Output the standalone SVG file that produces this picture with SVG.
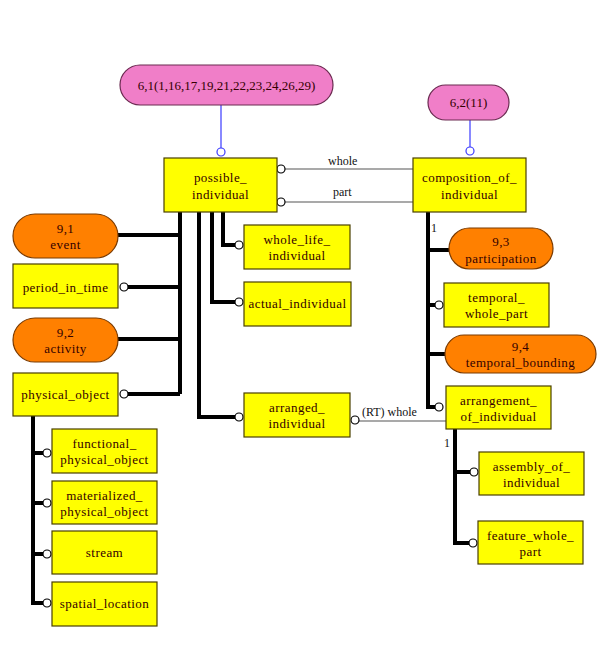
<svg xmlns="http://www.w3.org/2000/svg" width="609" height="647" viewBox="0 0 609 647">
<style>
text{font-family:"Liberation Serif","Times New Roman",serif;font-size:13px;fill:#330000;text-anchor:middle;letter-spacing:0.45px}
.pnk + text{letter-spacing:0}
.box{fill:#ffff00;stroke:#4a4000;stroke-width:1.2}
.org{fill:#ff8000;stroke:#7a3a00;stroke-width:1.2}
.pnk{fill:#f07ec8;stroke:#6a2a50;stroke-width:1.2}
.thick{stroke:#000;stroke-width:4;fill:none}
.thin{stroke:#555;stroke-width:1.2;fill:none}
.blue{stroke:#3a3aff;stroke-width:1.2;fill:none}
.c{fill:#fff;stroke:#000;stroke-width:1.2}
.cb{fill:#fff;stroke:#3a3aff;stroke-width:1.2}
.lbl{text-anchor:start;font-size:12px;letter-spacing:0;fill:#111}
</style>
<rect width="609" height="647" fill="#fff"/>
<g id="connectors">
<line class="blue" x1="221" y1="105" x2="221" y2="148"/>
<circle class="cb" cx="221" cy="152" r="4"/>
<line class="blue" x1="470" y1="120" x2="470" y2="147"/>
<circle class="cb" cx="470" cy="151" r="4"/>
<line class="thin" x1="285" y1="169" x2="413" y2="169"/>
<circle class="c" cx="281" cy="169" r="4"/>
<text class="lbl" x="328" y="165">whole</text>
<line class="thin" x1="285" y1="202" x2="413" y2="202"/>
<circle class="c" cx="281" cy="202" r="4"/>
<text class="lbl" x="333" y="196">part</text>
<path class="thick" d="M180,212V394M118,235H180M128,287H180M118,339H180M128,394H180"/>
<circle class="c" cx="124" cy="287" r="4"/>
<circle class="c" cx="124" cy="394" r="4"/>
<path class="thick" d="M199,212V417H235M212,212V302H235M223,212V245H235"/>
<circle class="c" cx="239" cy="417" r="4"/>
<circle class="c" cx="239" cy="302" r="4"/>
<circle class="c" cx="239" cy="245" r="4"/>
<path class="thick" d="M33,416V603H43M33,453H43M33,503H43M33,554H43"/>
<circle class="c" cx="47" cy="453" r="4"/>
<circle class="c" cx="47" cy="503" r="4"/>
<circle class="c" cx="47" cy="554" r="4"/>
<circle class="c" cx="47" cy="603" r="4"/>
<path class="thick" d="M428,212V407H435M428,250H449M428,305H435M428,354H445"/>
<circle class="c" cx="439" cy="305" r="4"/>
<circle class="c" cx="439" cy="407" r="4"/>
<path class="thick" d="M455,429V543H469M455,472H470"/>
<circle class="c" cx="474" cy="472" r="4"/>
<circle class="c" cx="473" cy="543" r="4"/>
<line class="thin" x1="359" y1="421" x2="446" y2="421"/>
<circle class="c" cx="355" cy="420" r="4"/>
<text class="lbl" x="362" y="416">(RT) whole</text>
<text class="lbl" x="431" y="232">1</text>
<text class="lbl" x="444" y="447">1</text>
</g>
<g id="n_pink1"><rect class="pnk" x="120" y="65" width="213" height="40" rx="20"/><text x="226.5" y="90">6,1(1,16,17,19,21,22,23,24,26,29)</text></g>
<g id="n_pink2"><rect class="pnk" x="428" y="85" width="81" height="35" rx="17.5"/><text x="468.5" y="107">6,2(11)</text></g>
<g id="n_possible_individual"><rect class="box" x="164" y="158" width="113" height="54"/><text x="220.5" y="182">possible_</text><text x="220.5" y="199">individual</text></g>
<g id="n_composition_of_individual"><rect class="box" x="413" y="158" width="113" height="54"/><text x="469.5" y="182">composition_of_</text><text x="469.5" y="199">individual</text></g>
<g id="n_event"><rect class="org" x="13" y="214" width="105" height="44" rx="22"/><text x="65.5" y="233">9,1</text><text x="65.5" y="249">event</text></g>
<g id="n_period_in_time"><rect class="box" x="13" y="264" width="105" height="44"/><text x="65.5" y="292">period_in_time</text></g>
<g id="n_activity"><rect class="org" x="13" y="318" width="105" height="44" rx="22"/><text x="65.5" y="337">9,2</text><text x="65.5" y="353">activity</text></g>
<g id="n_physical_object"><rect class="box" x="13" y="373" width="105" height="43"/><text x="65.5" y="399">physical_object</text></g>
<g id="n_whole_life_individual"><rect class="box" x="244" y="225" width="106" height="44"/><text x="297" y="244">whole_life_</text><text x="297" y="260">individual</text></g>
<g id="n_actual_individual"><rect class="box" x="244" y="282" width="107" height="44"/><text x="297.5" y="308">actual_individual</text></g>
<g id="n_arranged_individual"><rect class="box" x="244" y="393" width="106" height="44"/><text x="297" y="412">arranged_</text><text x="297" y="428">individual</text></g>
<g id="n_participation"><rect class="org" x="449" y="228" width="104" height="41" rx="20.5"/><text x="501" y="246">9,3</text><text x="501" y="263">participation</text></g>
<g id="n_temporal_whole_part"><rect class="box" x="444" y="283" width="105" height="44"/><text x="496.5" y="302">temporal_</text><text x="496.5" y="318">whole_part</text></g>
<g id="n_temporal_bounding"><rect class="org" x="445" y="335" width="151" height="38" rx="19"/><text x="520.5" y="351">9,4</text><text x="520.5" y="367">temporal_bounding</text></g>
<g id="n_arrangement_of_individual"><rect class="box" x="446" y="386" width="105" height="43"/><text x="498.5" y="405">arrangement_</text><text x="498.5" y="421">of_individual</text></g>
<g id="n_assembly_of_individual"><rect class="box" x="479" y="452" width="105" height="43"/><text x="531.5" y="471">assembly_of_</text><text x="531.5" y="487">individual</text></g>
<g id="n_feature_whole_part"><rect class="box" x="478" y="521" width="105" height="43"/><text x="530.5" y="540">feature_whole_</text><text x="530.5" y="556">part</text></g>
<g id="n_functional_physical_object"><rect class="box" x="52" y="429" width="105" height="44"/><text x="104.5" y="448">functional_</text><text x="104.5" y="464">physical_object</text></g>
<g id="n_materialized_physical_object"><rect class="box" x="52" y="481" width="105" height="43"/><text x="104.5" y="500">materialized_</text><text x="104.5" y="516">physical_object</text></g>
<g id="n_stream"><rect class="box" x="52" y="531" width="105" height="43"/><text x="104.5" y="557">stream</text></g>
<g id="n_spatial_location"><rect class="box" x="52" y="582" width="105" height="44"/><text x="104.5" y="608">spatial_location</text></g>
</svg>
